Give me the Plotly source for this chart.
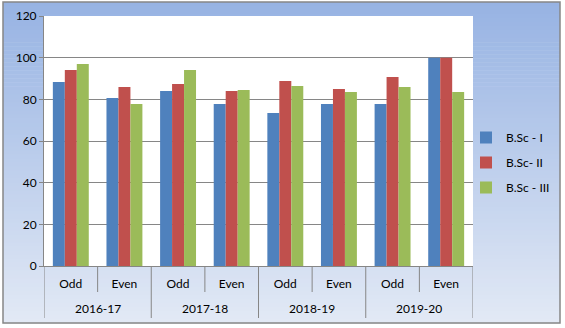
import plotly.graph_objects as go

years = ["2016-17", "2016-17", "2017-18", "2017-18", "2018-19", "2018-19", "2019-20", "2019-20"]
sems = ["Odd", "Even", "Odd", "Even", "Odd", "Even", "Odd", "Even"]
bsc1 = [88.3, 80.6, 84.0, 77.8, 73.4, 77.8, 77.8, 100]
bsc2 = [94.1, 85.9, 87.4, 84.0, 88.8, 85.0, 90.7, 100]
bsc3 = [97.0, 77.8, 94.1, 84.5, 86.4, 83.5, 85.9, 83.5]
series_names = ["B.Sc - I", "B.Sc- II", "B.Sc - III"]
colors = ["#4f81bd", "#c0504d", "#9bbb59"]

W, H = 565, 328
L, R, T, B = 44, 473, 16, 266
GRAY = "#868686"

def px(x):
    return (x - L) / (R - L)

def py(y):
    return (B - y) / (B - T)

ncat = len(sems)
idx = list(range(ncat))

fig = go.Figure()
for name, vals, c in zip(series_names, [bsc1, bsc2, bsc3], colors):
    fig.add_trace(go.Bar(x=idx, y=vals, name=name, marker_color=c,
                         marker_line_width=0, legendgroup=name,
                         customdata=years, hovertemplate="%{customdata}<br>%{y}<extra></extra>"))

shapes = []
top_c = (0x97, 0xb3, 0xe3)
bot_c = (0xe2, 0xe9, 0xf5)
y_top, y_bot = 2, 323
n = 80
for i in range(n):
    t = i / (n - 1)
    c = tuple(round(top_c[k] + (bot_c[k] - top_c[k]) * t) for k in range(3))
    ya = y_top + (y_bot - y_top) * i / n
    yb = y_top + (y_bot - y_top) * (i + 1) / n + 0.6
    shapes.append(dict(type="rect", xref="paper", yref="paper", layer="below",
                       x0=px(3), x1=px(560), y0=py(ya), y1=py(yb),
                       fillcolor="rgb(%d,%d,%d)" % c, line_width=0))
shapes.append(dict(type="rect", xref="paper", yref="paper", layer="below",
                   x0=0, x1=1, y0=0, y1=1, fillcolor="white", line_width=0))
shapes.append(dict(type="rect", xref="paper", yref="paper", layer="above",
                   x0=px(3), x1=px(560), y0=py(323), y1=py(2),
                   fillcolor="rgba(0,0,0,0)", line=dict(color=GRAY, width=1.5)))

# category boundaries: short between semesters, long between years and at the ends
for i in range(ncat + 1):
    same_year = 0 < i < ncat and years[i] == years[i - 1]
    y_end = 292 if same_year else 318
    shapes.append(dict(type="line", xref="x", yref="paper", layer="above",
                       x0=i - 0.5, x1=i - 0.5, y0=0, y1=py(y_end),
                       line=dict(color=GRAY, width=1)))

# year labels centred under their semesters
annotations = []
seen = []
for y in years:
    if y not in seen:
        seen.append(y)
for y in seen:
    pos = [i for i in idx if years[i] == y]
    annotations.append(dict(text=y, x=sum(pos) / len(pos), xref="x", y=py(308), yref="paper",
                            showarrow=False, xanchor="center", yanchor="middle",
                            font=dict(size=12, color="#000")))

fig.update_layout(
    width=W, height=H,
    margin=dict(l=L, r=W - R, t=T, b=H - B, pad=0, autoexpand=False),
    paper_bgcolor="white", plot_bgcolor="white",
    font=dict(family="Lato, Noto Sans, sans-serif", size=12, color="#000"),
    barmode="group", bargap=0.33, bargroupgap=0,
    shapes=shapes, annotations=annotations,
    legend=dict(xref="container", yref="container", x=466 / W, y=1 - 123 / H,
                xanchor="left", yanchor="top",
                bgcolor="rgba(0,0,0,0)", font=dict(size=12),
                traceorder="grouped", tracegroupgap=6, itemwidth=30),
    showlegend=True,
)
fig.update_yaxes(range=[0, 120], dtick=20, showgrid=True, gridcolor=GRAY, gridwidth=1,
                 showline=True, linecolor=GRAY, linewidth=1, automargin=False,
                 ticks="outside", ticklen=4, tickcolor=GRAY, zeroline=False,
                 tickfont=dict(size=12))
fig.update_xaxes(range=[-0.5, ncat - 0.5], tickvals=idx, ticktext=sems,
                 showline=True, linecolor=GRAY, linewidth=1,
                 ticks="", ticklabelstandoff=7, automargin=False,
                 zeroline=False, tickfont=dict(size=12), showgrid=False)

fig.write_html("out.html")
